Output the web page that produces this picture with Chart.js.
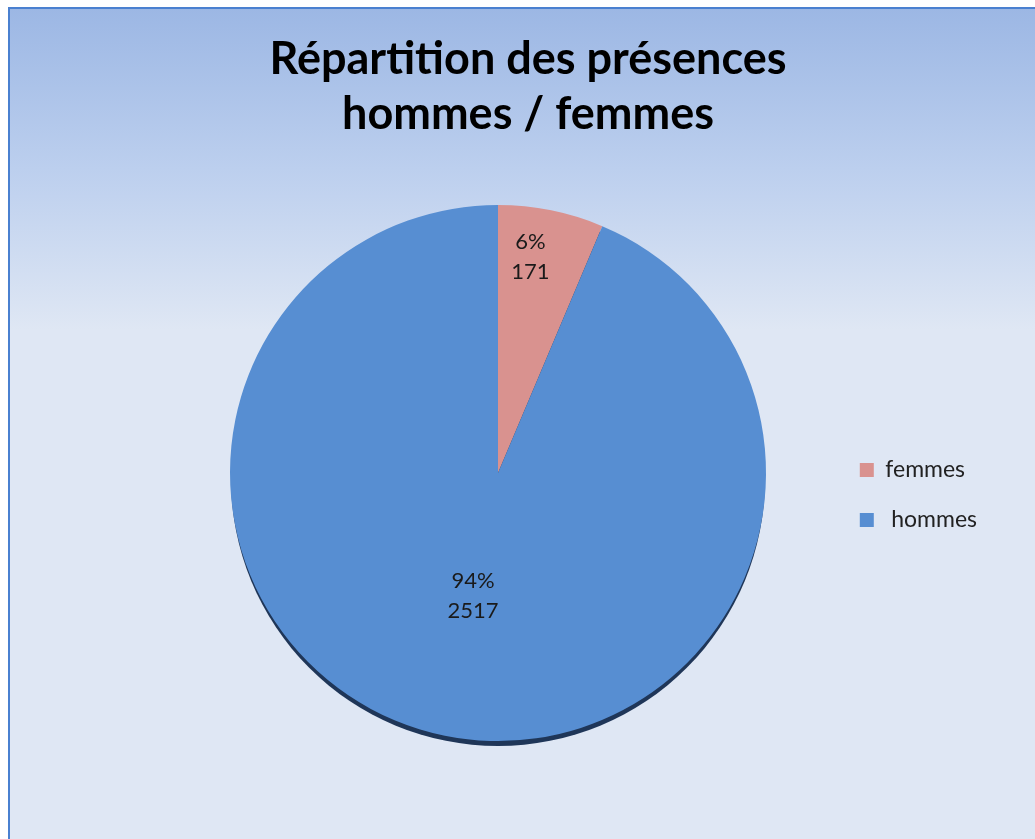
<!DOCTYPE html>
<html>
<head>
<meta charset="utf-8">
<script src="https://cdn.jsdelivr.net/npm/chart.js@4.4.0/dist/chart.umd.min.js"></script>
<style>
  body { margin: 0; background: #ffffff; }
  #myChart { display: block; }
</style>
</head>
<body>
<canvas id="myChart" width="1035" height="839"></canvas>
<script>
var categories = ['femmes', ' hommes'];
var presences = [171, 2517];
var percents = ['6%', '94%'];
var sliceColors = ['#d9928f', '#578ed2'];
var titleLines = ['Répartition des présences', 'hommes / femmes'];

// page frame: white margin, blue edge and the pale blue gradient
const framePlugin = {
    id: 'frame',
    beforeDraw(chart) {
        const ctx = chart.ctx;
        ctx.save();
        ctx.fillStyle = '#ffffff';
        ctx.fillRect(0, 0, chart.width, chart.height);
        const grad = ctx.createLinearGradient(0, 8, 0, 330);
        grad.addColorStop(0, '#9cb7e4');
        grad.addColorStop(0.5, '#bccfee');
        grad.addColorStop(1, '#dfe7f4');
        ctx.fillStyle = grad;
        ctx.fillRect(8, 7, chart.width - 8, chart.height - 7);
        ctx.fillStyle = '#4a80d0';
        ctx.fillRect(8, 7, 2, chart.height - 7);
        ctx.fillRect(8, 7, chart.width - 8, 2);
        ctx.restore();
    }
};

// put the pie where the original sits, legend stays at the right
const areaPlugin = {
    id: 'area',
    afterLayout(chart) {
        const a = chart.chartArea;
        a.left = 230; a.right = 766;
        a.top = 205; a.bottom = 741;
        a.width = a.right - a.left;
        a.height = a.bottom - a.top;
    }
};

// dark rim under the pie
const shadowPlugin = {
    id: 'pieShadow',
    beforeDatasetsDraw(chart) {
        const arc = chart.getDatasetMeta(0).data[0];
        if (!arc) return;
        const ctx = chart.ctx;
        ctx.save();
        ctx.fillStyle = '#1f3658';
        ctx.beginPath();
        ctx.arc(arc.x, arc.y + 6, arc.outerRadius - 1, 0, Math.PI * 2);
        ctx.fill();
        ctx.restore();
    }
};

// percent + count labels inside slices
const labelPlugin = {
    id: 'sliceLabels',
    afterDatasetsDraw(chart) {
        const ctx = chart.ctx;
        const dist = [0.81, 0.47];
        ctx.save();
        ctx.font = '22px Lato';
        ctx.fillStyle = '#1a1a1a';
        ctx.textAlign = 'center';
        ctx.textBaseline = 'middle';
        chart.getDatasetMeta(0).data.forEach((arc, i) => {
            const mid = (arc.startAngle + arc.endAngle) / 2 - (i === 0 ? 0.05 : 0);
            const r = arc.outerRadius * dist[i];
            const x = arc.x + Math.cos(mid) * r;
            const y = arc.y + Math.sin(mid) * r;
            ctx.fillText(percents[i], x, y - 16);
            ctx.fillText(String(presences[i]), x, y + 14);
        });
        ctx.restore();
    }
};

const ctx = document.getElementById('myChart');
new Chart(ctx, {
    type: 'pie',
    data: {
        labels: categories,
        datasets: [{
            data: presences,
            backgroundColor: sliceColors,
            borderWidth: 0
        }]
    },
    options: {
        responsive: false,
        animation: false,
        devicePixelRatio: 1,
        layout: {
            padding: { left: 69, right: 48, top: 0, bottom: 0 }
        },
        plugins: {
            title: {
                display: true,
                text: titleLines,
                color: '#000000',
                font: { family: 'Lato', size: 45, weight: 'bold', lineHeight: 1.244 },
                padding: { top: 31, bottom: 8 }
            },
            legend: {
                position: 'right',
                fullSize: false,
                labels: {
                    boxWidth: 14,
                    boxHeight: 14,
                    padding: 27,
                    color: '#222222',
                    font: { family: 'Lato', size: 23 }
                }
            },
            tooltip: { enabled: false }
        }
    },
    plugins: [framePlugin, areaPlugin, shadowPlugin, labelPlugin]
});
</script>
</body>
</html>
